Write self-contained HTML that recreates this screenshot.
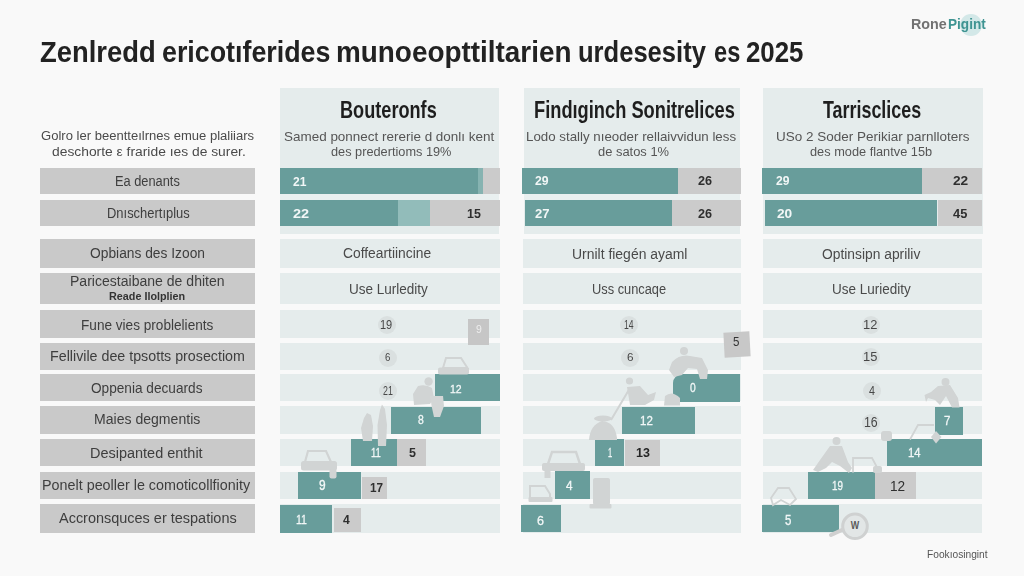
<!DOCTYPE html>
<html><head><meta charset="utf-8"><style>
html,body{margin:0;padding:0;}
body{width:1024px;height:576px;overflow:hidden;position:relative;background:#f9f9f9;font-family:"Liberation Sans",sans-serif;}
</style></head><body>
<div style="position:absolute;left:960px;top:13.5px;width:22px;height:22px;border-radius:50%;background:#d3e8e8;"></div>
<div style="position:absolute;left:40px;top:167.5px;width:215px;height:26.7px;background:#c9c9c9;"></div>
<div style="position:absolute;left:40px;top:200px;width:215px;height:26.2px;background:#c9c9c9;"></div>
<div style="position:absolute;left:40px;top:239.3px;width:215px;height:29.2px;background:#c9c9c9;"></div>
<div style="position:absolute;left:40px;top:273px;width:215px;height:31.2px;background:#c9c9c9;"></div>
<div style="position:absolute;left:40px;top:309.7px;width:215px;height:28.8px;background:#c9c9c9;"></div>
<div style="position:absolute;left:40px;top:343.2px;width:215px;height:26.6px;background:#c9c9c9;"></div>
<div style="position:absolute;left:40px;top:374.3px;width:215px;height:26.7px;background:#c9c9c9;"></div>
<div style="position:absolute;left:40px;top:406.2px;width:215px;height:28px;background:#c9c9c9;"></div>
<div style="position:absolute;left:40px;top:439.1px;width:215px;height:27.2px;background:#c9c9c9;"></div>
<div style="position:absolute;left:40px;top:471.5px;width:215px;height:27.3px;background:#c9c9c9;"></div>
<div style="position:absolute;left:40px;top:503.9px;width:215px;height:28.9px;background:#c9c9c9;"></div>
<div style="position:absolute;left:280px;top:87.5px;width:219px;height:146.2px;background:#e5ecec;"></div>
<div style="position:absolute;left:280px;top:194.1px;width:219px;height:5.9px;background:#e9f0f0;"></div>
<div style="position:absolute;left:524.4px;top:87.5px;width:216.1px;height:146.2px;background:#e5ecec;"></div>
<div style="position:absolute;left:524.4px;top:194.1px;width:216.1px;height:5.9px;background:#e9f0f0;"></div>
<div style="position:absolute;left:762.6px;top:87.5px;width:220px;height:146.2px;background:#e5ecec;"></div>
<div style="position:absolute;left:762.6px;top:194.1px;width:220px;height:5.9px;background:#e9f0f0;"></div>
<div style="position:absolute;left:280px;top:239.3px;width:219.5px;height:29.2px;background:#e5ecec;"></div>
<div style="position:absolute;left:280px;top:273px;width:219.5px;height:31.2px;background:#e5ecec;"></div>
<div style="position:absolute;left:280px;top:309.7px;width:219.5px;height:28.8px;background:#e5ecec;"></div>
<div style="position:absolute;left:280px;top:343.2px;width:219.5px;height:26.6px;background:#e5ecec;"></div>
<div style="position:absolute;left:280px;top:374.3px;width:219.5px;height:26.7px;background:#e5ecec;"></div>
<div style="position:absolute;left:280px;top:406.2px;width:219.5px;height:28px;background:#e5ecec;"></div>
<div style="position:absolute;left:280px;top:439.1px;width:219.5px;height:27.2px;background:#e5ecec;"></div>
<div style="position:absolute;left:280px;top:471.5px;width:219.5px;height:27.3px;background:#e5ecec;"></div>
<div style="position:absolute;left:280px;top:503.9px;width:219.5px;height:28.9px;background:#e5ecec;"></div>
<div style="position:absolute;left:522.5px;top:239.3px;width:218.3px;height:29.2px;background:#e5ecec;"></div>
<div style="position:absolute;left:522.5px;top:273px;width:218.3px;height:31.2px;background:#e5ecec;"></div>
<div style="position:absolute;left:522.5px;top:309.7px;width:218.3px;height:28.8px;background:#e5ecec;"></div>
<div style="position:absolute;left:522.5px;top:343.2px;width:218.3px;height:26.6px;background:#e5ecec;"></div>
<div style="position:absolute;left:522.5px;top:374.3px;width:218.3px;height:26.7px;background:#e5ecec;"></div>
<div style="position:absolute;left:522.5px;top:406.2px;width:218.3px;height:28px;background:#e5ecec;"></div>
<div style="position:absolute;left:522.5px;top:439.1px;width:218.3px;height:27.2px;background:#e5ecec;"></div>
<div style="position:absolute;left:522.5px;top:471.5px;width:218.3px;height:27.3px;background:#e5ecec;"></div>
<div style="position:absolute;left:522.5px;top:503.9px;width:218.3px;height:28.9px;background:#e5ecec;"></div>
<div style="position:absolute;left:762.5px;top:239.3px;width:219.8px;height:29.2px;background:#e5ecec;"></div>
<div style="position:absolute;left:762.5px;top:273px;width:219.8px;height:31.2px;background:#e5ecec;"></div>
<div style="position:absolute;left:762.5px;top:309.7px;width:219.8px;height:28.8px;background:#e5ecec;"></div>
<div style="position:absolute;left:762.5px;top:343.2px;width:219.8px;height:26.6px;background:#e5ecec;"></div>
<div style="position:absolute;left:762.5px;top:374.3px;width:219.8px;height:26.7px;background:#e5ecec;"></div>
<div style="position:absolute;left:762.5px;top:406.2px;width:219.8px;height:28px;background:#e5ecec;"></div>
<div style="position:absolute;left:762.5px;top:439.1px;width:219.8px;height:27.2px;background:#e5ecec;"></div>
<div style="position:absolute;left:762.5px;top:471.5px;width:219.8px;height:27.3px;background:#e5ecec;"></div>
<div style="position:absolute;left:762.5px;top:503.9px;width:219.8px;height:28.9px;background:#e5ecec;"></div>
<div style="position:absolute;left:280px;top:167.6px;width:203px;height:26.5px;background:#689d9b;"></div>
<div style="position:absolute;left:477.5px;top:167.6px;width:6px;height:26.5px;background:#86b3b1;"></div>
<div style="position:absolute;left:483px;top:167.6px;width:17px;height:26.5px;background:#cbcbcb;"></div>
<div style="position:absolute;left:280px;top:199.9px;width:117.7px;height:26.3px;background:#689d9b;"></div>
<div style="position:absolute;left:397.7px;top:199.9px;width:32.3px;height:26.3px;background:#92bcba;"></div>
<div style="position:absolute;left:430px;top:199.9px;width:70px;height:26.3px;background:#cbcbcb;"></div>
<div style="position:absolute;left:522.3px;top:167.6px;width:155.5px;height:26.5px;background:#689d9b;"></div>
<div style="position:absolute;left:677.8px;top:167.6px;width:63px;height:26.5px;background:#cbcbcb;"></div>
<div style="position:absolute;left:524.8px;top:200.2px;width:147.2px;height:26.2px;background:#689d9b;"></div>
<div style="position:absolute;left:672px;top:200.2px;width:68.8px;height:26.2px;background:#cbcbcb;"></div>
<div style="position:absolute;left:762.2px;top:167.6px;width:160px;height:26.5px;background:#689d9b;"></div>
<div style="position:absolute;left:922.2px;top:167.6px;width:59.8px;height:26.5px;background:#cbcbcb;"></div>
<div style="position:absolute;left:764.8px;top:200.2px;width:172.7px;height:26.2px;background:#689d9b;"></div>
<div style="position:absolute;left:937.5px;top:200.2px;width:44.5px;height:26.2px;background:#cbcbcb;"></div>
<div style="position:absolute;left:378.3px;top:315.5px;width:18px;height:18px;border-radius:50%;background:#dae0e0;"></div>
<div style="position:absolute;left:378.5px;top:348.8px;width:18px;height:18px;border-radius:50%;background:#dae0e0;"></div>
<div style="position:absolute;left:379px;top:381.8px;width:18px;height:18px;border-radius:50%;background:#dae0e0;"></div>
<div style="position:absolute;left:620px;top:315.5px;width:18px;height:18px;border-radius:50%;background:#dae0e0;"></div>
<div style="position:absolute;left:621px;top:348.5px;width:18px;height:18px;border-radius:50%;background:#dae0e0;"></div>
<div style="position:absolute;left:862px;top:316px;width:18px;height:18px;border-radius:50%;background:#dae0e0;"></div>
<div style="position:absolute;left:862px;top:348.2px;width:18px;height:18px;border-radius:50%;background:#dae0e0;"></div>
<div style="position:absolute;left:862.5px;top:381.5px;width:18px;height:18px;border-radius:50%;background:#dae0e0;"></div>
<div style="position:absolute;left:862px;top:413.6px;width:18px;height:18px;border-radius:50%;background:#dae0e0;"></div>
<div style="position:absolute;left:435px;top:374.4px;width:64.8px;height:27px;background:#689d9b;"></div>
<div style="position:absolute;left:390.6px;top:406.8px;width:90.7px;height:27.7px;background:#689d9b;"></div>
<div style="position:absolute;left:351.2px;top:438.9px;width:46.2px;height:27.2px;background:#689d9b;"></div>
<div style="position:absolute;left:397.4px;top:438.9px;width:28.9px;height:27.2px;background:#cbcbcb;"></div>
<div style="position:absolute;left:298.2px;top:471.7px;width:62.8px;height:27.5px;background:#689d9b;"></div>
<div style="position:absolute;left:362.2px;top:476.6px;width:24.8px;height:22.6px;background:#cbcbcb;"></div>
<div style="position:absolute;left:280px;top:504.5px;width:52.3px;height:28px;background:#689d9b;"></div>
<div style="position:absolute;left:333.5px;top:508.2px;width:27.5px;height:24.3px;background:#cbcbcb;"></div>
<div style="position:absolute;left:467.7px;top:318.5px;width:21.2px;height:26.5px;background:#c6c6c6;"></div>
<div style="position:absolute;left:672.8px;top:374.4px;width:67.5px;height:27.6px;background:#689d9b;border-radius:9px 0 0 6px;"></div>
<div style="position:absolute;left:621.5px;top:407.3px;width:73.4px;height:27.2px;background:#689d9b;"></div>
<div style="position:absolute;left:595.3px;top:438.9px;width:28.7px;height:27.1px;background:#689d9b;"></div>
<div style="position:absolute;left:625px;top:440px;width:34.7px;height:26px;background:#cbcbcb;"></div>
<div style="position:absolute;left:554.5px;top:471.2px;width:35.9px;height:27.9px;background:#689d9b;"></div>
<div style="position:absolute;left:521.2px;top:504.5px;width:39.6px;height:27.9px;background:#689d9b;"></div>
<div style="position:absolute;left:723.5px;top:331.5px;width:26px;height:25px;background:#c8c8c8;transform:rotate(-3deg);"></div>
<div style="position:absolute;left:935.3px;top:406.8px;width:28.1px;height:27.8px;background:#689d9b;"></div>
<div style="position:absolute;left:886.8px;top:439.2px;width:94.8px;height:26.9px;background:#689d9b;"></div>
<div style="position:absolute;left:807.9px;top:471.9px;width:67.3px;height:27.1px;background:#689d9b;"></div>
<div style="position:absolute;left:875.2px;top:472.4px;width:41px;height:26.6px;background:#cbcbcb;"></div>
<div style="position:absolute;left:762.3px;top:504.7px;width:76.3px;height:27.5px;background:#689d9b;"></div>
<svg style="position:absolute;left:0;top:0" width="1024" height="576" viewBox="0 0 1024 576">
<defs><filter id="bl" x="-10%" y="-10%" width="120%" height="120%"><feGaussianBlur stdDeviation="0.7"/></filter></defs>
<g fill="#d1d4d4" stroke="none" filter="url(#bl)">
<!-- col1: car A above teal 12 -->
<path d="M443 368 L446 358 L461 358 L467.5 368 Z" fill="none" stroke="#d1d4d4" stroke-width="2"/>
<rect x="438" y="367.5" width="31" height="7" rx="2"/>
<!-- person B seated -->
<circle cx="428.6" cy="381.5" r="4.2"/>
<path d="M418 386 Q426 384 432 388 L434 398 L430 404 L414 405 L413 394 Z"/>
<path d="M430 396 L443 396 L444 406 L440 417 L434 417 L432 408 Z" fill="#d3d6d6"/>
<!-- two standing figures C -->
<path d="M363 441 L361 428 L364 418 L367 413 L371 415 L373 426 L372 441 Z"/>
<path d="M378 446 L377.5 425 L380 410 L382 404.5 L385 409 L387 425 L386 446 Z"/>
<!-- car D -->
<path d="M305 462 L308 451 L326 451 L331 462" fill="none" stroke="#d1d4d4" stroke-width="2.2"/>
<rect x="301" y="461" width="36" height="9.5" rx="2.5"/>
<rect x="329.5" y="469" width="7" height="9.5" rx="2"/>
<!-- col2: person E -->
<circle cx="684" cy="351" r="4"/>
<path d="M672 362 Q680 354 690 356 L702 358 L708 370 L707 379 L700 379 L697 369 L688 368 L682 375 L674 377 L669 370 Z"/>
<!-- person F with stick -->
<circle cx="629.5" cy="381" r="3.6"/>
<path d="M627 387 L640 386 L648 395 L656 392 L654 400 L645 405 L630 405 Z"/>
<path d="M630 388 L611 420" stroke="#d1d4d4" stroke-width="2" fill="none"/>
<path d="M664 405.5 L665 396 Q672 390 680 398 L680 405.5 Z"/>
<!-- G -->
<path d="M589 440 Q590 425 602 421 Q615 422 617 438 L617 440 Z"/>
<ellipse cx="603" cy="418.5" rx="9" ry="3"/>
<!-- car H -->
<path d="M548 464 L552 452 L576 452 L580 464" fill="none" stroke="#d1d4d4" stroke-width="2.4"/>
<rect x="542" y="463" width="43" height="8" rx="2"/>
<rect x="544.5" y="470" width="6" height="8"/>
<!-- truck I -->
<path d="M530 500 L530 486 L545 486 L550 494 L550 500" fill="none" stroke="#d1d4d4" stroke-width="2"/>
<rect x="528.5" y="497" width="24" height="5" rx="1"/>
<!-- bin J -->
<rect x="593" y="478" width="17" height="27" rx="2"/>
<rect x="589.5" y="504" width="22" height="4.5" rx="1"/>
<!-- col3: person K -->
<circle cx="945.5" cy="382" r="4"/>
<path d="M938 386 L950 385 L958 398 L959.5 407.5 L952 407.5 L946 396 L940 405 L935 400 L928 398 L926 402 L924.5 395 L931 392 Z"/>
<!-- car L outline -->
<path d="M910 439.5 L918 425 L934 425" fill="none" stroke="#d1d4d4" stroke-width="1.8"/>
<path d="M931 437 L936 431 L941.5 437 L936 443.5 Z"/>
<rect x="881" y="431" width="11" height="10" rx="3"/>
<!-- M person on bike -->
<circle cx="836.5" cy="441" r="4"/>
<path d="M830 446 L842 446 L848 462 L852 468 L849 473 L840 466 L832 462 L826 468 L818 472 L813 470 L820 460 Z"/>
<!-- N car outline -->
<path d="M853 472.5 L853 458 L872 458 L879 471" fill="none" stroke="#d1d4d4" stroke-width="1.8"/>
<rect x="873" y="466" width="9" height="7" rx="2"/>
<!-- O tent -->
<path d="M771 498 L778 488 L789 488 L796 499 L790 505 L781 500 L773 505 Z" fill="none" stroke="#d1d4d4" stroke-width="1.8"/>
</g>
<!-- magnifier -->
<path d="M843 529.5 L831 535" stroke="#d0d0d0" stroke-width="4" stroke-linecap="round"/>
<circle cx="855" cy="526.3" r="12.3" fill="#e2e6e6" stroke="#cfd1d1" stroke-width="3"/>
<text x="855" y="529.5" font-family="Liberation Sans" font-size="10.5" fill="#5a5a5a" text-anchor="middle" font-weight="700" transform="translate(855 0) scale(0.85 1) translate(-855 0)">W</text>
</svg>
<span id="t0" style="position:absolute;left:39.50px;top:35.76px;font-family:'Liberation Sans',sans-serif;font-size:29.07px;font-weight:700;color:#222;line-height:normal;white-space:pre;transform-origin:0 0;transform:scaleX(0.9428);">Zenlredd</span>
<span id="t1" style="position:absolute;left:162.48px;top:35.76px;font-family:'Liberation Sans',sans-serif;font-size:29.07px;font-weight:700;color:#222;line-height:normal;white-space:pre;transform-origin:0 0;transform:scaleX(0.9225);">ericotıferides</span>
<span id="t2" style="position:absolute;left:335.84px;top:35.76px;font-family:'Liberation Sans',sans-serif;font-size:29.07px;font-weight:700;color:#222;line-height:normal;white-space:pre;transform-origin:0 0;transform:scaleX(0.9594);">munoeopttiltarien</span>
<span id="t3" style="position:absolute;left:578.32px;top:35.76px;font-family:'Liberation Sans',sans-serif;font-size:29.07px;font-weight:700;color:#222;line-height:normal;white-space:pre;transform-origin:0 0;transform:scaleX(0.8796);">urdesesity</span>
<span id="t4" style="position:absolute;left:713.69px;top:35.76px;font-family:'Liberation Sans',sans-serif;font-size:29.07px;font-weight:700;color:#222;line-height:normal;white-space:pre;transform-origin:0 0;transform:scaleX(0.8125);">es</span>
<span id="t5" style="position:absolute;left:745.91px;top:35.76px;font-family:'Liberation Sans',sans-serif;font-size:29.07px;font-weight:700;color:#222;line-height:normal;white-space:pre;transform-origin:0 0;transform:scaleX(0.8887);">2025</span>
<span id="t6" style="position:absolute;left:910.66px;top:14.76px;font-family:'Liberation Sans',sans-serif;font-size:15.26px;font-weight:700;color:#727272;line-height:normal;white-space:pre;transform-origin:0 0;transform:scaleX(0.9388);">Rone</span>
<span id="t7" style="position:absolute;left:948.11px;top:14.76px;font-family:'Liberation Sans',sans-serif;font-size:15.26px;font-weight:700;color:#3f9492;line-height:normal;white-space:pre;transform-origin:0 0;transform:scaleX(0.8916);">Pigint</span>
<span id="t8" style="position:absolute;left:926.80px;top:549.44px;font-family:'Liberation Sans',sans-serif;font-size:10.17px;font-weight:400;color:#555;line-height:normal;white-space:pre;transform-origin:0 0;transform:scaleX(1.0035);">Fookıosingint</span>
<span id="t9" style="position:absolute;left:40.50px;top:128.03px;font-family:'Liberation Sans',sans-serif;font-size:13.66px;font-weight:400;color:#4a4a4a;line-height:normal;white-space:pre;transform-origin:0 0;transform:scaleX(0.9551);">Golro ler beentteılrnes emue plaliiars</span>
<span id="t10" style="position:absolute;left:51.60px;top:143.86px;font-family:'Liberation Sans',sans-serif;font-size:13.52px;font-weight:400;color:#4a4a4a;line-height:normal;white-space:pre;transform-origin:0 0;transform:scaleX(1.0236);">deschorte ε fraride ıes de surer.</span>
<span id="t11" style="position:absolute;left:114.67px;top:173.30px;font-family:'Liberation Sans',sans-serif;font-size:13.81px;font-weight:400;color:#3e3e3e;line-height:normal;white-space:pre;transform-origin:0 0;transform:scaleX(0.9288);">Ea denants</span>
<span id="t12" style="position:absolute;left:107.26px;top:204.80px;font-family:'Liberation Sans',sans-serif;font-size:13.81px;font-weight:400;color:#3e3e3e;line-height:normal;white-space:pre;transform-origin:0 0;transform:scaleX(0.9383);">Dnıschertıplus</span>
<span id="t13" style="position:absolute;left:89.80px;top:245.26px;font-family:'Liberation Sans',sans-serif;font-size:14.39px;font-weight:400;color:#3e3e3e;line-height:normal;white-space:pre;transform-origin:0 0;transform:scaleX(0.9593);">Opbians des Izoon</span>
<span id="t14" style="position:absolute;left:70.01px;top:272.70px;font-family:'Liberation Sans',sans-serif;font-size:14.24px;font-weight:400;color:#3e3e3e;line-height:normal;white-space:pre;transform-origin:0 0;transform:scaleX(0.9866);">Paricestaibane de dhiten</span>
<span id="t15" style="position:absolute;left:81.03px;top:316.83px;font-family:'Liberation Sans',sans-serif;font-size:14.10px;font-weight:400;color:#3e3e3e;line-height:normal;white-space:pre;transform-origin:0 0;transform:scaleX(0.9654);">Fune vies problelients</span>
<span id="t16" style="position:absolute;left:50.03px;top:348.19px;font-family:'Liberation Sans',sans-serif;font-size:14.68px;font-weight:400;color:#3e3e3e;line-height:normal;white-space:pre;transform-origin:0 0;transform:scaleX(0.9715);">Fellivile dee tpsotts prosectiom</span>
<span id="t17" style="position:absolute;left:91.40px;top:379.73px;font-family:'Liberation Sans',sans-serif;font-size:14.10px;font-weight:400;color:#3e3e3e;line-height:normal;white-space:pre;transform-origin:0 0;transform:scaleX(0.9677);">Oppenia decuards</span>
<span id="t18" style="position:absolute;left:93.64px;top:410.69px;font-family:'Liberation Sans',sans-serif;font-size:14.68px;font-weight:400;color:#3e3e3e;line-height:normal;white-space:pre;transform-origin:0 0;transform:scaleX(0.9583);">Maies degmentis</span>
<span id="t19" style="position:absolute;left:90.45px;top:443.66px;font-family:'Liberation Sans',sans-serif;font-size:15.26px;font-weight:400;color:#3e3e3e;line-height:normal;white-space:pre;transform-origin:0 0;transform:scaleX(0.9489);">Desipanted enthit</span>
<span id="t20" style="position:absolute;left:42.16px;top:475.56px;font-family:'Liberation Sans',sans-serif;font-size:15.26px;font-weight:400;color:#3e3e3e;line-height:normal;white-space:pre;transform-origin:0 0;transform:scaleX(0.9406);">Ponelt peoller le comoticollfionity</span>
<span id="t21" style="position:absolute;left:58.50px;top:509.60px;font-family:'Liberation Sans',sans-serif;font-size:13.81px;font-weight:400;color:#3e3e3e;line-height:normal;white-space:pre;transform-origin:0 0;transform:scaleX(1.0484);">Accronsquces er tespations</span>
<span id="t22" style="position:absolute;left:109.30px;top:290.20px;font-family:'Liberation Sans',sans-serif;font-size:10.76px;font-weight:700;color:#333;line-height:normal;white-space:pre;transform-origin:0 0;transform:scaleX(1.0040);">Reade Ilolplien</span>
<span id="t23" style="position:absolute;left:340.45px;top:95.77px;font-family:'Liberation Sans',sans-serif;font-size:24.27px;font-weight:700;color:#1e1e1e;line-height:normal;white-space:pre;transform-origin:0 0;transform:scaleX(0.7474);">Bouteronfs</span>
<span id="t24" style="position:absolute;left:534.15px;top:95.77px;font-family:'Liberation Sans',sans-serif;font-size:24.27px;font-weight:700;color:#1e1e1e;line-height:normal;white-space:pre;transform-origin:0 0;transform:scaleX(0.7526);">Findıginch Sonitrelices</span>
<span id="t25" style="position:absolute;left:823.20px;top:95.77px;font-family:'Liberation Sans',sans-serif;font-size:24.27px;font-weight:700;color:#1e1e1e;line-height:normal;white-space:pre;transform-origin:0 0;transform:scaleX(0.7375);">Tarrisclices</span>
<span id="t26" style="position:absolute;left:284.30px;top:128.80px;font-family:'Liberation Sans',sans-serif;font-size:13.37px;font-weight:400;color:#555555;line-height:normal;white-space:pre;transform-origin:0 0;transform:scaleX(1.0073);">Samed ponnect rererie d donlı kent</span>
<span id="t27" style="position:absolute;left:330.50px;top:143.83px;font-family:'Liberation Sans',sans-serif;font-size:13.66px;font-weight:400;color:#555555;line-height:normal;white-space:pre;transform-origin:0 0;transform:scaleX(0.9333);">des predertioms 19%</span>
<span id="t28" style="position:absolute;left:526.40px;top:128.80px;font-family:'Liberation Sans',sans-serif;font-size:13.37px;font-weight:400;color:#555555;line-height:normal;white-space:pre;transform-origin:0 0;transform:scaleX(0.9961);">Lodo stally nıeoder rellaivvidun less</span>
<span id="t29" style="position:absolute;left:598.30px;top:143.83px;font-family:'Liberation Sans',sans-serif;font-size:13.66px;font-weight:400;color:#555555;line-height:normal;white-space:pre;transform-origin:0 0;transform:scaleX(0.9452);">de satos 1%</span>
<span id="t30" style="position:absolute;left:775.59px;top:128.80px;font-family:'Liberation Sans',sans-serif;font-size:13.37px;font-weight:400;color:#555555;line-height:normal;white-space:pre;transform-origin:0 0;transform:scaleX(1.0095);">USo 2 Soder Perikiar parnlloters</span>
<span id="t31" style="position:absolute;left:810.30px;top:143.83px;font-family:'Liberation Sans',sans-serif;font-size:13.66px;font-weight:400;color:#555555;line-height:normal;white-space:pre;transform-origin:0 0;transform:scaleX(0.9352);">des mode flantve 15b</span>
<span id="t32" style="position:absolute;left:343.40px;top:245.23px;font-family:'Liberation Sans',sans-serif;font-size:14.53px;font-weight:400;color:#4a4a4a;line-height:normal;white-space:pre;transform-origin:0 0;transform:scaleX(0.9529);">Coffeartiincine</span>
<span id="t33" style="position:absolute;left:348.82px;top:281.40px;font-family:'Liberation Sans',sans-serif;font-size:13.81px;font-weight:400;color:#4a4a4a;line-height:normal;white-space:pre;transform-origin:0 0;transform:scaleX(0.9797);">Use Lurledity</span>
<span id="t34" style="position:absolute;left:572.12px;top:245.50px;font-family:'Liberation Sans',sans-serif;font-size:14.24px;font-weight:400;color:#4a4a4a;line-height:normal;white-space:pre;transform-origin:0 0;transform:scaleX(0.9793);">Urnilt fiegén ayaml</span>
<span id="t35" style="position:absolute;left:591.97px;top:281.40px;font-family:'Liberation Sans',sans-serif;font-size:13.81px;font-weight:400;color:#4a4a4a;line-height:normal;white-space:pre;transform-origin:0 0;transform:scaleX(0.9294);">Uss cuncaqe</span>
<span id="t36" style="position:absolute;left:822.20px;top:245.50px;font-family:'Liberation Sans',sans-serif;font-size:14.24px;font-weight:400;color:#4a4a4a;line-height:normal;white-space:pre;transform-origin:0 0;transform:scaleX(0.9711);">Optinsipn apriliv</span>
<span id="t37" style="position:absolute;left:831.92px;top:281.40px;font-family:'Liberation Sans',sans-serif;font-size:13.81px;font-weight:400;color:#4a4a4a;line-height:normal;white-space:pre;transform-origin:0 0;transform:scaleX(0.9771);">Use Luriedity</span>
<span id="t38" style="position:absolute;left:292.90px;top:173.97px;font-family:'Liberation Sans',sans-serif;font-size:12.86px;font-weight:700;color:#f2f7f7;line-height:normal;white-space:pre;transform-origin:0 0;transform:scaleX(0.9404);">21</span>
<span id="t39" style="position:absolute;left:293.30px;top:206.08px;font-family:'Liberation Sans',sans-serif;font-size:13.29px;font-weight:700;color:#f2f7f7;line-height:normal;white-space:pre;transform-origin:0 0;transform:scaleX(1.0920);">22</span>
<span id="t40" style="position:absolute;left:466.50px;top:206.08px;font-family:'Liberation Sans',sans-serif;font-size:13.29px;font-weight:700;color:#2f2f2f;line-height:normal;white-space:pre;transform-origin:0 0;transform:scaleX(0.9364);">15</span>
<span id="t41" style="position:absolute;left:535.00px;top:173.41px;font-family:'Liberation Sans',sans-serif;font-size:13.57px;font-weight:700;color:#f2f7f7;line-height:normal;white-space:pre;transform-origin:0 0;transform:scaleX(0.9007);">29</span>
<span id="t42" style="position:absolute;left:698.40px;top:173.41px;font-family:'Liberation Sans',sans-serif;font-size:13.57px;font-weight:700;color:#2f2f2f;line-height:normal;white-space:pre;transform-origin:0 0;transform:scaleX(0.9329);">26</span>
<span id="t43" style="position:absolute;left:535.40px;top:205.91px;font-family:'Liberation Sans',sans-serif;font-size:13.57px;font-weight:700;color:#f2f7f7;line-height:normal;white-space:pre;transform-origin:0 0;transform:scaleX(0.9627);">27</span>
<span id="t44" style="position:absolute;left:698.40px;top:205.91px;font-family:'Liberation Sans',sans-serif;font-size:13.57px;font-weight:700;color:#2f2f2f;line-height:normal;white-space:pre;transform-origin:0 0;transform:scaleX(0.9329);">26</span>
<span id="t45" style="position:absolute;left:775.80px;top:173.41px;font-family:'Liberation Sans',sans-serif;font-size:13.57px;font-weight:700;color:#f2f7f7;line-height:normal;white-space:pre;transform-origin:0 0;transform:scaleX(0.8943);">29</span>
<span id="t46" style="position:absolute;left:952.90px;top:173.41px;font-family:'Liberation Sans',sans-serif;font-size:13.57px;font-weight:700;color:#2f2f2f;line-height:normal;white-space:pre;transform-origin:0 0;transform:scaleX(1.0108);">22</span>
<span id="t47" style="position:absolute;left:776.50px;top:205.91px;font-family:'Liberation Sans',sans-serif;font-size:13.57px;font-weight:700;color:#f2f7f7;line-height:normal;white-space:pre;transform-origin:0 0;transform:scaleX(1.0108);">20</span>
<span id="t48" style="position:absolute;left:952.90px;top:205.91px;font-family:'Liberation Sans',sans-serif;font-size:13.57px;font-weight:700;color:#2f2f2f;line-height:normal;white-space:pre;transform-origin:0 0;transform:scaleX(0.9458);">45</span>
<span id="t49" style="position:absolute;left:380.40px;top:317.47px;font-family:'Liberation Sans',sans-serif;font-size:12.86px;font-weight:400;color:#474747;line-height:normal;white-space:pre;transform-origin:0 0;transform:scaleX(0.8555);">19</span>
<span id="t50" style="position:absolute;left:384.70px;top:352.01px;font-family:'Liberation Sans',sans-serif;font-size:10.43px;font-weight:400;color:#474747;line-height:normal;white-space:pre;transform-origin:0 0;transform:scaleX(0.9333);">6</span>
<span id="t51" style="position:absolute;left:383.00px;top:382.95px;font-family:'Liberation Sans',sans-serif;font-size:13.43px;font-weight:400;color:#474747;line-height:normal;white-space:pre;transform-origin:0 0;transform:scaleX(0.6572);">21</span>
<span id="t52" style="position:absolute;left:624.00px;top:317.73px;font-family:'Liberation Sans',sans-serif;font-size:12.57px;font-weight:400;color:#474747;line-height:normal;white-space:pre;transform-origin:0 0;transform:scaleX(0.6864);">14</span>
<span id="t53" style="position:absolute;left:626.60px;top:350.95px;font-family:'Liberation Sans',sans-serif;font-size:11.57px;font-weight:400;color:#474747;line-height:normal;white-space:pre;transform-origin:0 0;transform:scaleX(1.0167);">6</span>
<span id="t54" style="position:absolute;left:863.44px;top:317.05px;font-family:'Liberation Sans',sans-serif;font-size:13.43px;font-weight:400;color:#474747;line-height:normal;white-space:pre;transform-origin:0 0;transform:scaleX(0.9587);">12</span>
<span id="t55" style="position:absolute;left:863.44px;top:349.45px;font-family:'Liberation Sans',sans-serif;font-size:13.43px;font-weight:400;color:#474747;line-height:normal;white-space:pre;transform-origin:0 0;transform:scaleX(0.9587);">15</span>
<span id="t56" style="position:absolute;left:868.70px;top:382.81px;font-family:'Liberation Sans',sans-serif;font-size:13.57px;font-weight:400;color:#474747;line-height:normal;white-space:pre;transform-origin:0 0;transform:scaleX(0.7875);">4</span>
<span id="t57" style="position:absolute;left:863.54px;top:414.46px;font-family:'Liberation Sans',sans-serif;font-size:14.29px;font-weight:400;color:#474747;line-height:normal;white-space:pre;transform-origin:0 0;transform:scaleX(0.8638);">16</span>
<span id="t58" style="position:absolute;left:450.30px;top:381.72px;font-family:'Liberation Sans',sans-serif;font-size:11.71px;font-weight:400;color:#f2f7f7;line-height:normal;white-space:pre;transform-origin:0 0;transform:scaleX(0.8954);-webkit-text-stroke:0.3px #f2f7f7;">12</span>
<span id="t59" style="position:absolute;left:418.00px;top:413.13px;font-family:'Liberation Sans',sans-serif;font-size:12.14px;font-weight:400;color:#f2f7f7;line-height:normal;white-space:pre;transform-origin:0 0;transform:scaleX(0.8571);-webkit-text-stroke:0.3px #f2f7f7;">8</span>
<span id="t60" style="position:absolute;left:371.20px;top:445.27px;font-family:'Liberation Sans',sans-serif;font-size:12.86px;font-weight:400;color:#f2f7f7;line-height:normal;white-space:pre;transform-origin:0 0;transform:scaleX(0.7354);-webkit-text-stroke:0.3px #f2f7f7;">11</span>
<span id="t61" style="position:absolute;left:408.80px;top:445.27px;font-family:'Liberation Sans',sans-serif;font-size:12.86px;font-weight:700;color:#2f2f2f;line-height:normal;white-space:pre;transform-origin:0 0;transform:scaleX(0.9714);">5</span>
<span id="t62" style="position:absolute;left:318.90px;top:478.38px;font-family:'Liberation Sans',sans-serif;font-size:13.71px;font-weight:400;color:#f2f7f7;line-height:normal;white-space:pre;transform-origin:0 0;transform:scaleX(0.8714);-webkit-text-stroke:0.3px #f2f7f7;">9</span>
<span id="t63" style="position:absolute;left:370.40px;top:479.67px;font-family:'Liberation Sans',sans-serif;font-size:12.86px;font-weight:700;color:#2f2f2f;line-height:normal;white-space:pre;transform-origin:0 0;transform:scaleX(0.9121);">17</span>
<span id="t64" style="position:absolute;left:295.71px;top:511.78px;font-family:'Liberation Sans',sans-serif;font-size:13.29px;font-weight:400;color:#f2f7f7;line-height:normal;white-space:pre;transform-origin:0 0;transform:scaleX(0.7908);-webkit-text-stroke:0.3px #f2f7f7;">11</span>
<span id="t65" style="position:absolute;left:342.70px;top:512.28px;font-family:'Liberation Sans',sans-serif;font-size:13.29px;font-weight:700;color:#2f2f2f;line-height:normal;white-space:pre;transform-origin:0 0;transform:scaleX(0.9125);">4</span>
<span id="t66" style="position:absolute;left:475.50px;top:323.49px;font-family:'Liberation Sans',sans-serif;font-size:11.43px;font-weight:400;color:#eeeeee;line-height:normal;white-space:pre;transform-origin:0 0;transform:scaleX(0.9167);">9</span>
<span id="t67" style="position:absolute;left:690.40px;top:381.46px;font-family:'Liberation Sans',sans-serif;font-size:12.00px;font-weight:400;color:#f2f7f7;line-height:normal;white-space:pre;transform-origin:0 0;transform:scaleX(0.8571);-webkit-text-stroke:0.3px #f2f7f7;">0</span>
<span id="t68" style="position:absolute;left:640.20px;top:413.89px;font-family:'Liberation Sans',sans-serif;font-size:11.86px;font-weight:400;color:#f2f7f7;line-height:normal;white-space:pre;transform-origin:0 0;transform:scaleX(0.9693);-webkit-text-stroke:0.3px #f2f7f7;">12</span>
<span id="t69" style="position:absolute;left:608.00px;top:445.93px;font-family:'Liberation Sans',sans-serif;font-size:12.14px;font-weight:400;color:#f2f7f7;line-height:normal;white-space:pre;transform-origin:0 0;transform:scaleX(0.6143);-webkit-text-stroke:0.3px #f2f7f7;">1</span>
<span id="t70" style="position:absolute;left:636.10px;top:445.83px;font-family:'Liberation Sans',sans-serif;font-size:12.57px;font-weight:700;color:#252525;line-height:normal;white-space:pre;transform-origin:0 0;transform:scaleX(0.9938);">13</span>
<span id="t71" style="position:absolute;left:566.20px;top:478.73px;font-family:'Liberation Sans',sans-serif;font-size:12.14px;font-weight:400;color:#f2f7f7;line-height:normal;white-space:pre;transform-origin:0 0;transform:scaleX(0.9714);-webkit-text-stroke:0.3px #f2f7f7;">4</span>
<span id="t72" style="position:absolute;left:537.00px;top:512.57px;font-family:'Liberation Sans',sans-serif;font-size:12.86px;font-weight:400;color:#f2f7f7;line-height:normal;white-space:pre;transform-origin:0 0;transform:scaleX(0.9714);-webkit-text-stroke:0.3px #f2f7f7;">6</span>
<span id="t73" style="position:absolute;left:732.80px;top:334.77px;font-family:'Liberation Sans',sans-serif;font-size:12.43px;font-weight:400;color:#333;line-height:normal;white-space:pre;transform-origin:0 0;transform:scaleX(0.9286);">5</span>
<span id="t74" style="position:absolute;left:943.90px;top:414.10px;font-family:'Liberation Sans',sans-serif;font-size:12.29px;font-weight:400;color:#f2f7f7;line-height:normal;white-space:pre;transform-origin:0 0;transform:scaleX(0.9286);-webkit-text-stroke:0.3px #f2f7f7;">7</span>
<span id="t75" style="position:absolute;left:908.30px;top:445.57px;font-family:'Liberation Sans',sans-serif;font-size:12.43px;font-weight:400;color:#f2f7f7;line-height:normal;white-space:pre;transform-origin:0 0;transform:scaleX(0.9065);-webkit-text-stroke:0.3px #f2f7f7;">14</span>
<span id="t76" style="position:absolute;left:832.30px;top:479.46px;font-family:'Liberation Sans',sans-serif;font-size:12.00px;font-weight:400;color:#f2f7f7;line-height:normal;white-space:pre;transform-origin:0 0;transform:scaleX(0.8191);-webkit-text-stroke:0.3px #f2f7f7;">19</span>
<span id="t77" style="position:absolute;left:889.58px;top:478.13px;font-family:'Liberation Sans',sans-serif;font-size:14.86px;font-weight:400;color:#2f2f2f;line-height:normal;white-space:pre;transform-origin:0 0;transform:scaleX(0.9177);">12</span>
<span id="t78" style="position:absolute;left:785.30px;top:511.59px;font-family:'Liberation Sans',sans-serif;font-size:14.57px;font-weight:400;color:#f2f7f7;line-height:normal;white-space:pre;transform-origin:0 0;transform:scaleX(0.7875);-webkit-text-stroke:0.3px #f2f7f7;">5</span>
</body></html>
